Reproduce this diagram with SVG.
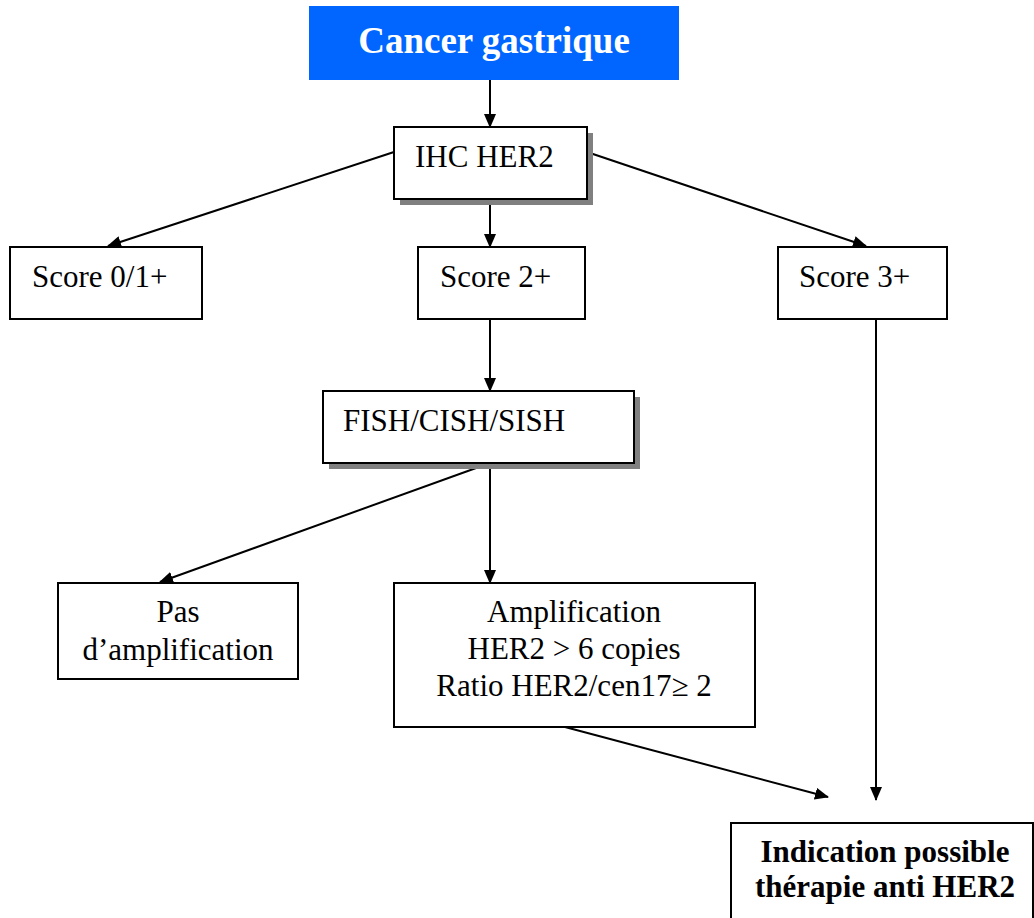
<svg xmlns="http://www.w3.org/2000/svg" width="1034" height="918" viewBox="0 0 1034 918">
<style>
.box{fill:#fff;stroke:#000;stroke-width:2}
.shadow{fill:#808080}
.t{font-family:"Liberation Serif","Times New Roman",serif;font-size:31px;fill:#000}
.b{font-weight:bold}
.c{text-anchor:middle}
.conn{stroke:#000;stroke-width:2;fill:none;marker-end:url(#ah)}
</style>
<defs>
<marker id="ah" markerWidth="14" markerHeight="12" refX="13" refY="6" orient="auto" markerUnits="userSpaceOnUse">
<path d="M0,0 L14,6 L0,12 Z" fill="#000"/>
</marker>
</defs>
<rect width="1034" height="918" fill="#fff"/>
<g id="connectors">
<line class="conn" x1="490" y1="80" x2="490" y2="127"/>
<line class="conn" x1="394" y1="152" x2="108" y2="246"/>
<line class="conn" x1="587" y1="152" x2="866" y2="246"/>
<line class="conn" x1="490" y1="199" x2="490" y2="247"/>
<line class="conn" x1="490" y1="319" x2="490" y2="391"/>
<line class="conn" x1="490" y1="463" x2="160" y2="582"/>
<line class="conn" x1="490" y1="463" x2="490" y2="583"/>
<line class="conn" x1="565" y1="727" x2="828" y2="797"/>
<line class="conn" x1="876" y1="319" x2="876" y2="800"/>
</g>
<g id="cancer">
<rect x="309" y="6" width="370" height="74" fill="#0066ff"/>
<text class="t b c" x="494" y="53" font-size="37" fill="#fff" style="font-size:37px;fill:#fff">Cancer gastrique</text>
</g>
<g id="ihc">
<rect class="shadow" x="400" y="133" width="193" height="72"/>
<rect class="box" x="394" y="127" width="193" height="72"/>
<text class="t" x="415" y="167">IHC HER2</text>
</g>
<g id="score01">
<rect class="box" x="10" y="247" width="192" height="72"/>
<text class="t" x="32" y="287">Score 0/1+</text>
</g>
<g id="score2">
<rect class="box" x="418" y="247" width="167" height="72"/>
<text class="t" x="440" y="287">Score 2+</text>
</g>
<g id="score3">
<rect class="box" x="778" y="247" width="169" height="72"/>
<text class="t" x="799" y="287">Score 3+</text>
</g>
<g id="fish">
<rect class="shadow" x="329" y="397" width="311" height="72"/>
<rect class="box" x="323" y="391" width="311" height="72"/>
<text class="t" x="343" y="431">FISH/CISH/SISH</text>
</g>
<g id="pas">
<rect class="box" x="58" y="583" width="240" height="96"/>
<text class="t c" x="178" y="622">Pas</text>
<text class="t c" x="178" y="660">d’amplification</text>
</g>
<g id="amplification">
<rect class="box" x="394" y="583" width="361" height="144"/>
<text class="t c" x="574" y="622">Amplification</text>
<text class="t c" x="574" y="659">HER2 &gt; 6 copies</text>
<text class="t c" x="574" y="696">Ratio HER2/cen17≥ 2</text>
</g>
<g id="indication">
<rect class="box" x="731" y="823" width="302" height="100"/>
<text class="t b c" x="885" y="862">Indication possible</text>
<text class="t b c" x="885" y="897">thérapie anti HER2</text>
</g>
</svg>
